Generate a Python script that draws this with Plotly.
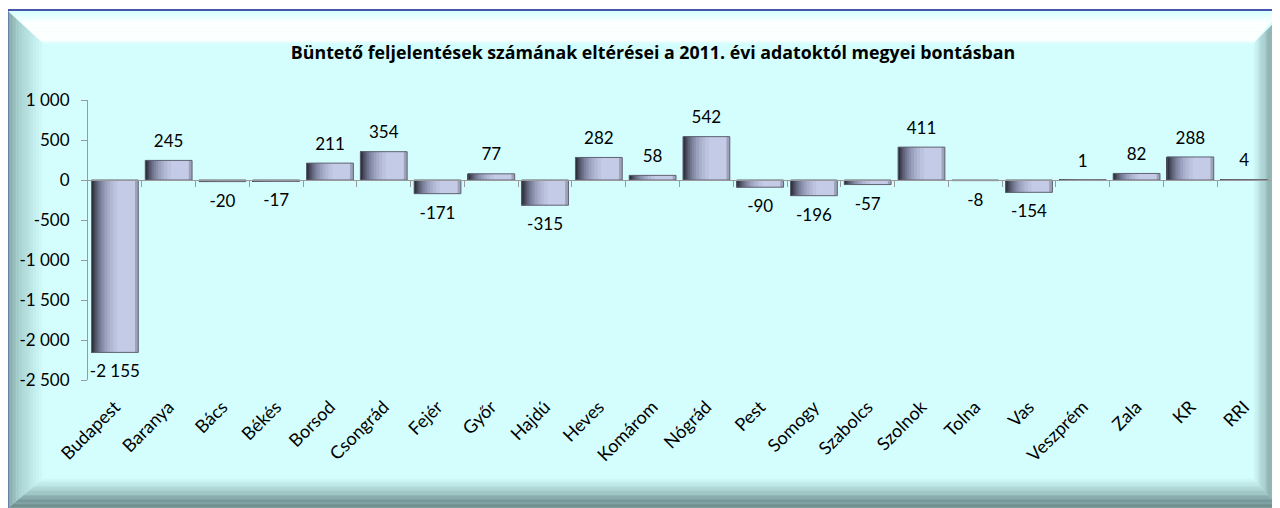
import plotly.graph_objects as go

# ---------------- data ----------------
categories = ["Budapest", "Baranya", "Bács", "Békés", "Borsod", "Csongrád", "Fejér",
              "Győr", "Hajdú", "Heves", "Komárom", "Nógrád", "Pest", "Somogy",
              "Szabolcs", "Szolnok", "Tolna", "Vas", "Veszprém", "Zala", "KR", "RRI"]
values = [-2155, 245, -20, -17, 211, 354, -171, 77, -315, 282, 58, 542, -90, -196,
          -57, 411, -8, -154, 1, 82, 288, 4]
y_ticks = [1000, 500, 0, -500, -1000, -1500, -2000, -2500]
title_text = "Büntető feljelentések számának eltérései a 2011. évi adatoktól megyei bontásban"


def fmt(v):
    return f"{v:,}".replace(",", " ")


# ---------------- geometry (figure pixels; page has 8px body margin) ----------------
W, H = 1272, 500
PL, PR, PT, PB = 80, 1263, 92, 372  # plot area
FONT = "Lato"


def px(x):
    return (x - PL) / (PR - PL)


def py(y):
    return (PB - y) / (PB - PT)


def hexmix(c1, c2, t):
    a = [int(c1[i:i + 2], 16) for i in (1, 3, 5)]
    b = [int(c2[i:i + 2], 16) for i in (1, 3, 5)]
    return "#" + "".join(f"{round(a[i] + (b[i] - a[i]) * t):02x}" for i in range(3))


def poly(points, color, layer="below"):
    d = "M " + " L ".join(f"{px(x):.5f},{py(y):.5f}" for x, y in points) + " Z"
    return dict(type="path", path=d, xref="paper", yref="paper",
                fillcolor=color, line=dict(width=0), layer=layer)


def lerp(p, q, t):
    return (p[0] + (q[0] - p[0]) * t, p[1] + (q[1] - p[1]) * t)


def band(o1, o2, i1, i2, stops, n=24):
    out = []
    for k in range(n):
        t0, t1 = k / n, (k + 1) / n
        tm = (t0 + t1) / 2
        col = stops[-1][1]
        for j in range(len(stops) - 1):
            if stops[j][0] <= tm <= stops[j + 1][0]:
                s = (tm - stops[j][0]) / (stops[j + 1][0] - stops[j][0])
                col = hexmix(stops[j][1], stops[j + 1][1], s)
                break
        a = lerp(o1, i1, t0)
        b = lerp(o2, i2, t0)
        c = lerp(o2, i2, min(1, t1 + 0.01))
        d = lerp(o1, i1, min(1, t1 + 0.01))
        out.append(poly([a, b, c, d], col))
    return out


CYAN = "#d4fefe"
shapes = []
FX0, FY0, FX1, FY1 = -1, 2, 1273, 501
IX0, IY0, IX1, IY1 = 36, 36, 1245, 470
shapes.append(poly([(FX0, FY0), (FX1, FY0), (FX1, FY1), (FX0, FY1)], CYAN))
# left band
shapes += band((FX0, FY0), (FX0, FY1), (IX0, IY0), (IX0, IY1),
               [(0, "#7fa2a1"), (0.35, "#a9d3d2"), (1, CYAN)])
# bottom band
shapes += band((FX0, FY1), (FX1, FY1), (IX0, IY1), (IX1, IY1),
               [(0, "#6f8d8b"), (0.25, "#77979a"), (0.6, "#a8d0cf"), (1, CYAN)])
# right band
shapes += band((FX1, FY1), (FX1, 8), (IX1, IY1), (IX1, IY0),
               [(0, "#6c8b89"), (0.35, "#88abaa"), (1, CYAN)])
# top band
shapes += band((FX1, FY0), (FX0, FY0), (IX1, IY0), (IX0, IY0),
               [(0, "#d2ffff"), (0.4, "#ffffff"), (0.9, "#fbffff"), (1, CYAN)])
# blue border
shapes.append(dict(type="path",
                   path=f"M {px(FX0 + 0.5):.5f},{py(FY1):.5f} L {px(FX0 + 0.5):.5f},{py(FY0):.5f} L {px(FX1):.5f},{py(FY0):.5f}",
                   xref="paper", yref="paper", line=dict(color="#4656ad", width=2), layer="below"))

# ---------------- bars ----------------
fig = go.Figure()
BW = 0.87
LEFT = -BW / 2
fig.add_trace(go.Bar(x=categories, y=values, width=BW, offset=LEFT,
                     marker=dict(color="#c4cbe6", line=dict(width=0)),
                     hoverinfo="skip", showlegend=False))
# right edge strip
fig.add_trace(go.Bar(x=categories, y=values, width=BW * 0.07, offset=BW / 2 - BW * 0.07,
                     marker=dict(color="#9ea3ba", line=dict(width=0)),
                     hoverinfo="skip", showlegend=False))
layer_w = [0.55, 0.47, 0.40, 0.34, 0.28, 0.23, 0.185, 0.145, 0.11, 0.08, 0.055, 0.035]
layer_c = ["#bcc3df", "#b2b9d5", "#a7aeca", "#9aa0bd", "#8c92ae", "#7e839e",
           "#6f748d", "#61657b", "#53566a", "#46495a", "#3a3c4b", "#2f313e"]
for w, c in zip(layer_w, layer_c):
    fig.add_trace(go.Bar(x=categories, y=values, width=BW * w, offset=LEFT,
                         marker=dict(color=c, line=dict(width=0)),
                         hoverinfo="skip", showlegend=False))
# outline
fig.add_trace(go.Bar(x=categories, y=values, width=BW, offset=LEFT,
                     marker=dict(color="rgba(0,0,0,0)", line=dict(width=1, color="#5f6272")),
                     hoverinfo="skip", showlegend=False))

# value labels
fig.add_trace(go.Scatter(x=categories, y=values, mode="markers+text",
                         text=[fmt(v) for v in values],
                         textposition=["top center" if v >= 0 else "bottom center" for v in values],
                         marker=dict(size=[13 if v >= 0 else 18 for v in values],
                                     color="rgba(0,0,0,0)", opacity=0,
                                     line=dict(width=0, color="rgba(0,0,0,0)")),
                         textfont=dict(family=FONT, size=17, color="#000000"),
                         hoverinfo="skip", showlegend=False, cliponaxis=False))

# dummy trace for zero-line category axis
n = len(categories)
fig.add_trace(go.Scatter(x=[-0.5], y=[0], xaxis="x2", mode="markers",
                         marker=dict(size=0.1, color="rgba(0,0,0,0)", opacity=0,
                                     line=dict(width=0)),
                         hoverinfo="skip", showlegend=False))

AXC = "#9a9a9a"
fig.update_layout(
    width=W, height=H,
    margin=dict(l=PL, r=W - PR, t=PT, b=H - PB, pad=0),
    paper_bgcolor="#ffffff", plot_bgcolor="rgba(0,0,0,0)",
    barmode="overlay",
    shapes=shapes,
    title=dict(text=f"<b>{title_text}</b>", x=645 / W, xanchor="center", xref="container",
               y=(H - 45) / H, yanchor="middle", yref="container",
               font=dict(family="Open Sans", size=17.8, color="#000000")),
    xaxis=dict(type="category", categoryorder="array", categoryarray=categories,
               range=[-0.5, n - 0.5], showline=False, showgrid=False, zeroline=False,
               ticks="", tickangle=-45, ticklabelstandoff=12, automargin=False,
               tickfont=dict(family=FONT, size=18, color="#000000")),
    xaxis2=dict(overlaying="x", anchor="free", position=-y_ticks[-1] / (y_ticks[0] - y_ticks[-1]),
                range=[-0.5, n - 0.5], showline=True, linecolor=AXC, linewidth=1,
                ticks="outside", ticklen=6, tickcolor=AXC,
                tickvals=[i + 0.5 for i in range(n - 1)],
                showticklabels=False, showgrid=False, zeroline=False),
    yaxis=dict(range=[y_ticks[-1], y_ticks[0]], tickvals=y_ticks,
               ticktext=[fmt(v) for v in y_ticks],
               showline=True, linecolor=AXC, linewidth=1, ticks="outside", ticklen=6,
               tickcolor=AXC, showgrid=False, zeroline=False, ticklabelstandoff=8,
               automargin=False,
               tickfont=dict(family=FONT, size=17, color="#000000")),
)

fig.write_html("out.html")
